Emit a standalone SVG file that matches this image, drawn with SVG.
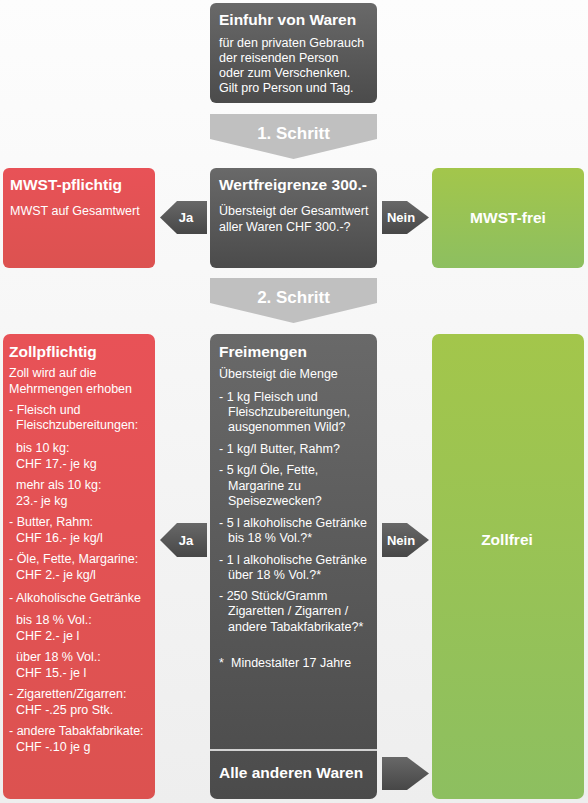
<svg xmlns="http://www.w3.org/2000/svg" width="588" height="803" viewBox="0 0 588 803">
<defs>
<linearGradient id="bg" x1="0" y1="0" x2="0" y2="1"><stop offset="0" stop-color="#fdfdfd"/><stop offset="1" stop-color="#eeeeee"/></linearGradient>
<linearGradient id="dark" x1="0" y1="0" x2="0" y2="1"><stop offset="0" stop-color="#696969"/><stop offset="1" stop-color="#4b4b4b"/></linearGradient>
<linearGradient id="red" x1="0" y1="0" x2="0" y2="1"><stop offset="0" stop-color="#e85257"/><stop offset="1" stop-color="#dc5250"/></linearGradient>
<linearGradient id="green" x1="0" y1="0" x2="0" y2="1"><stop offset="0" stop-color="#a3c64b"/><stop offset="1" stop-color="#8dbf60"/></linearGradient>
<linearGradient id="arr" x1="0" y1="0" x2="0" y2="1"><stop offset="0" stop-color="#686868"/><stop offset="1" stop-color="#474747"/></linearGradient>
</defs>
<style>
text{font-family:"Liberation Sans",Arial,sans-serif;fill:#fff}
.t{font-size:15.5px;font-weight:bold}
.b{font-size:12.5px}
.s{font-size:17px;font-weight:bold;text-anchor:middle}
.l{font-size:13px;font-weight:bold;text-anchor:middle}
.c{text-anchor:middle}
.step{fill:#c0c0c0}
.arr{fill:url(#arr)}
</style>
<rect x="0" y="0" width="588" height="803" fill="url(#bg)"/>

<g id="einfuhr">
<rect x="210" y="3" width="167" height="100" rx="6" fill="url(#dark)"/>
<text class="t" x="219" y="25">Einfuhr von Waren</text>
<text class="b" x="219" y="47">für den privaten Gebrauch</text>
<text class="b" x="219" y="62">der reisenden Person</text>
<text class="b" x="219" y="77">oder zum Verschenken.</text>
<text class="b" x="219" y="92">Gilt pro Person und Tag.</text>
</g>

<g id="mwst-pflichtig">
<rect x="3" y="168" width="152" height="100" rx="6" fill="url(#red)"/>
<text class="t" x="10" y="190">MWST-pflichtig</text>
<text class="b" x="10" y="215">MWST auf Gesamtwert</text>
</g>

<g id="wertfreigrenze">
<rect x="210" y="168" width="167" height="100" rx="6" fill="url(#dark)"/>
<text class="t" x="219" y="190">Wertfreigrenze 300.-</text>
<text class="b" x="219" y="215">Übersteigt der Gesamtwert</text>
<text class="b" x="219" y="231">aller Waren CHF 300.-?</text>
</g>

<g id="mwst-frei">
<rect x="432" y="168" width="152" height="100" rx="6" fill="url(#green)"/>
<text class="t c" x="508" y="223">MWST-frei</text>
</g>

<g id="zollpflichtig">
<rect x="3" y="334" width="152" height="465" rx="7" fill="url(#red)"/>
<text class="t" x="9" y="357">Zollpflichtig</text>
<text class="b" x="9" y="377">Zoll wird auf die</text>
<text class="b" x="9" y="393">Mehrmengen erhoben</text>
<text class="b" x="9" y="414">- Fleisch und</text>
<text class="b" x="16" y="429">Fleischzubereitungen:</text>
<text class="b" x="16" y="452">bis 10 kg:</text>
<text class="b" x="16" y="468">CHF 17.- je kg</text>
<text class="b" x="16" y="489">mehr als 10 kg:</text>
<text class="b" x="16" y="505">23.- je kg</text>
<text class="b" x="9" y="526">- Butter, Rahm:</text>
<text class="b" x="16" y="542">CHF 16.- je kg/l</text>
<text class="b" x="9" y="563">- Öle, Fette, Margarine:</text>
<text class="b" x="16" y="579">CHF 2.- je kg/l</text>
<text class="b" x="9" y="602">- Alkoholische Getränke</text>
<text class="b" x="16" y="624">bis 18 % Vol.:</text>
<text class="b" x="16" y="640">CHF 2.- je l</text>
<text class="b" x="16" y="661">über 18 % Vol.:</text>
<text class="b" x="16" y="677">CHF 15.- je l</text>
<text class="b" x="9" y="698">- Zigaretten/Zigarren:</text>
<text class="b" x="16" y="714">CHF -.25 pro Stk.</text>
<text class="b" x="9" y="735">- andere Tabakfabrikate:</text>
<text class="b" x="16" y="751">CHF -.10 je g</text>
</g>

<g id="freimengen">
<rect x="210" y="334" width="167" height="465" rx="7" fill="url(#dark)"/>
<line x1="210" y1="750" x2="377" y2="750" stroke="#ffffff" stroke-width="1.5"/>
<text class="t" x="219" y="357">Freimengen</text>
<text class="b" x="219" y="378">Übersteigt die Menge</text>
<text class="b" x="219" y="401">- 1 kg Fleisch und</text>
<text class="b" x="228" y="416">Fleischzubereitungen,</text>
<text class="b" x="228" y="431">ausgenommen Wild?</text>
<text class="b" x="219" y="453">- 1 kg/l Butter, Rahm?</text>
<text class="b" x="219" y="474">- 5 kg/l Öle, Fette,</text>
<text class="b" x="228" y="490">Margarine zu</text>
<text class="b" x="228" y="505">Speisezwecken?</text>
<text class="b" x="219" y="527">- 5 l alkoholische Getränke</text>
<text class="b" x="228" y="542">bis 18 % Vol.?*</text>
<text class="b" x="219" y="564">- 1 l alkoholische Getränke</text>
<text class="b" x="228" y="579">über 18 % Vol.?*</text>
<text class="b" x="219" y="600">- 250 Stück/Gramm</text>
<text class="b" x="228" y="615">Zigaretten / Zigarren /</text>
<text class="b" x="228" y="631">andere Tabakfabrikate?*</text>
<text class="b" x="219" y="667">*</text>
<text class="b" x="231" y="667">Mindestalter 17 Jahre</text>
<text class="t" x="219" y="778">Alle anderen Waren</text>
</g>

<g id="zollfrei">
<rect x="432" y="334" width="152" height="465" rx="7" fill="url(#green)"/>
<text class="t c" x="507" y="545">Zollfrei</text>
</g>

<g id="connectors">
<polygon class="step" points="210,114 377,114 377,139 293.5,159 210,139"/>
<text class="s" x="293.5" y="139">1. Schritt</text>
<polygon class="step" points="210,278 377,278 377,303 293.5,323 210,303"/>
<text class="s" x="293.5" y="303">2. Schritt</text>
<polygon class="arr" points="207,201 177,201 160,217.5 177,234 207,234"/>
<text class="l" x="186" y="222">Ja</text>
<polygon class="arr" points="382,201 407,201 429,217.5 407,234 382,234"/>
<text class="l" x="401" y="222">Nein</text>
<polygon class="arr" points="207,523 177,523 160,540 177,557 207,557"/>
<text class="l" x="186" y="545">Ja</text>
<polygon class="arr" points="382,523 407,523 429,540 407,557 382,557"/>
<text class="l" x="401" y="545">Nein</text>
<polygon class="arr" points="382,757 407,757 429,773.5 407,790 382,790"/>
</g>
</svg>
